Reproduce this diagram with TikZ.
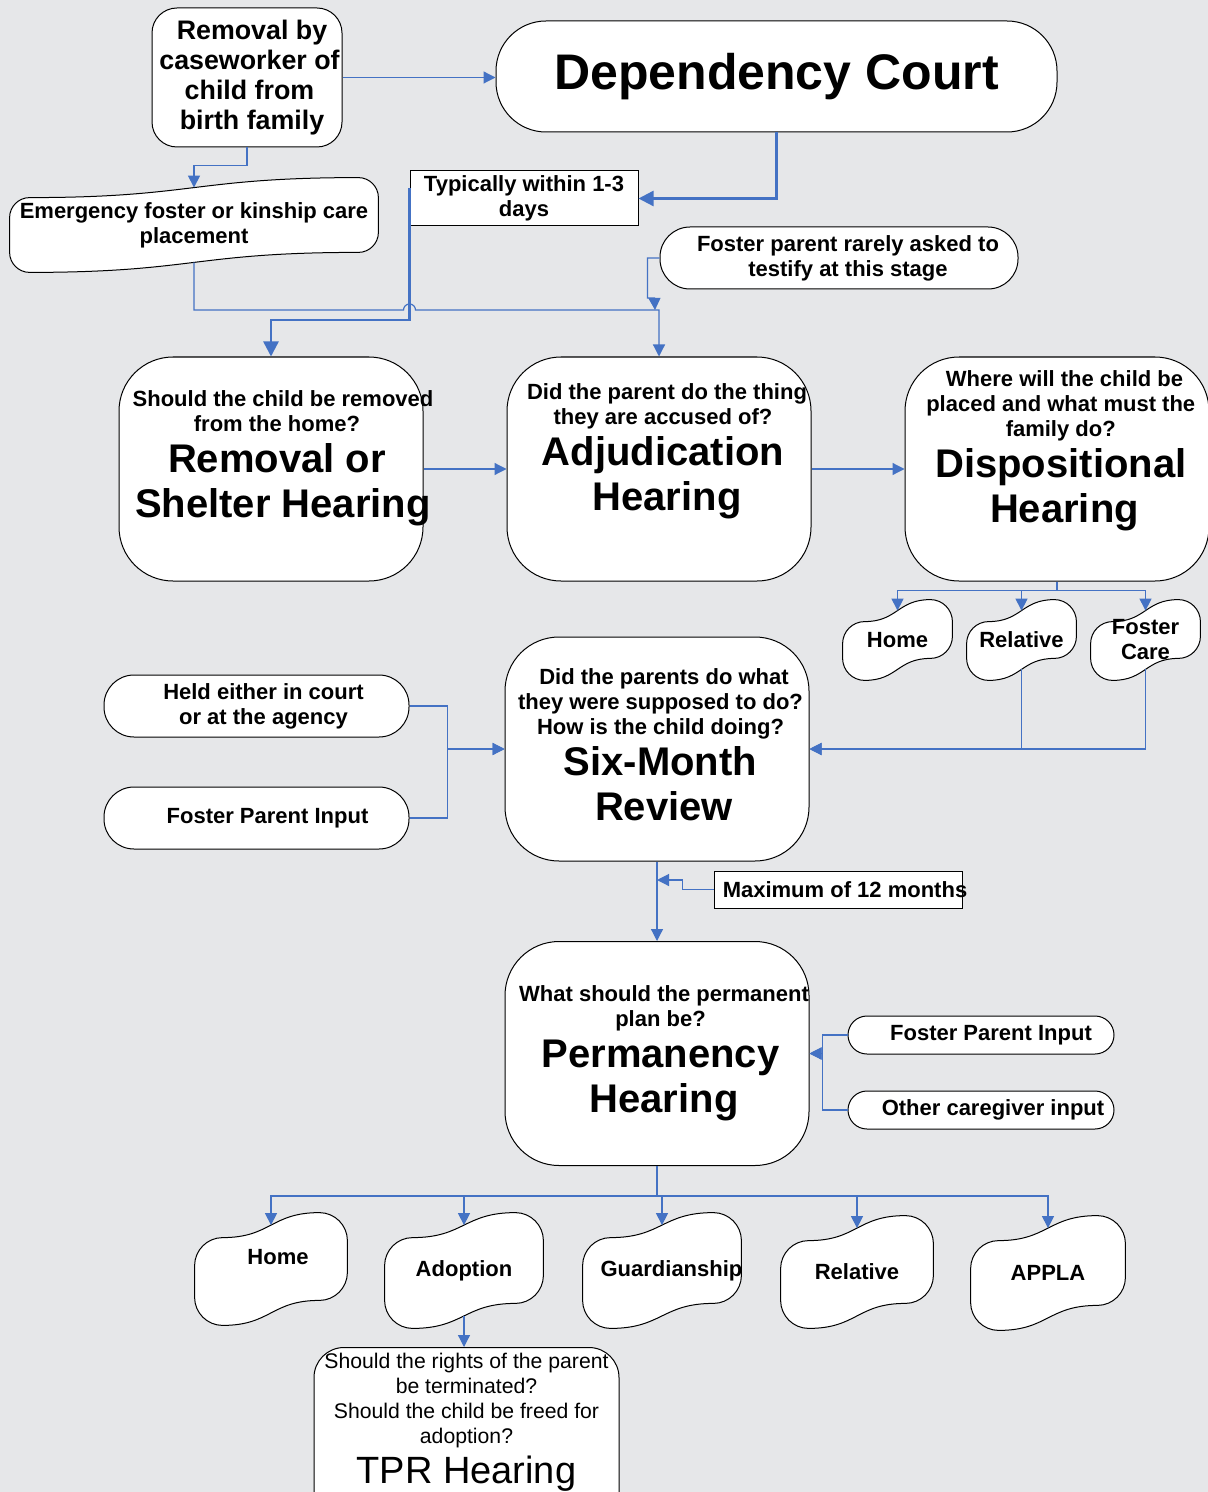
\documentclass[tikz,border=0pt]{standalone}
\usepackage{fontspec}
\setmainfont{Liberation Sans}
\usetikzlibrary{arrows.meta,backgrounds,positioning}
\definecolor{bgcol}{RGB}{230,231,233}
\definecolor{lnblue}{RGB}{68,114,196}
\newcommand{\qfont}{\bfseries\fontsize{11}{12.5}\selectfont}
\newcommand{\hfont}{\bfseries\fontsize{20}{22.5}\selectfont}
\setlength{\lineskiplimit}{-\maxdimen}
% move one line of a node to the right without widening it
\newcommand{\nudge}[2]{\hspace*{#1}#2\hspace*{-#1}}
% wavy outline round a named node: #1 name, #2 rise of the edges, #3 corner
\newcommand{\wavebox}[3]{%
  \draw[line width=0.5pt, fill=white]
    ([yshift=-#2-#3]#1.north west) .. controls ([yshift=-#2-0.45*#3]#1.north west) and ([xshift=0.45*#3,yshift=-#2]#1.north west) .. ([xshift=#3,yshift=-#2]#1.north west)
    .. controls ([yshift=-#2]#1.north) and (#1.north) .. ([xshift=-#3]#1.north east)
    .. controls ([xshift=-0.45*#3]#1.north east) and ([yshift=-0.45*#3]#1.north east) .. ([yshift=-#3]#1.north east)
    -- ([yshift=#2+#3]#1.south east) .. controls ([yshift=#2+0.45*#3]#1.south east) and ([xshift=-0.45*#3,yshift=#2]#1.south east) .. ([xshift=-#3,yshift=#2]#1.south east)
    .. controls ([yshift=#2]#1.south) and (#1.south) .. ([xshift=#3]#1.south west)
    .. controls ([xshift=0.45*#3]#1.south west) and ([yshift=0.45*#3]#1.south west) .. ([yshift=#3]#1.south west) -- cycle;
  \coordinate (#1-t) at ([yshift=-#2/2]#1.north);
  \coordinate (#1-b) at ([yshift=#2/2]#1.south);}

\begin{document}
\begin{tikzpicture}[
  x=0.5pt, y=-0.5pt,
  >={Triangle[length=6pt,width=6pt]},
  box/.style={draw=black, line width=0.5pt, fill=white, align=center, inner sep=0pt, font=\qfont},
  hearing/.style={box, minimum width=152pt, minimum height=112pt, rounded corners=27pt},
  pill/.style={box, rounded corners=15pt},
  wave/.style={align=center, inner sep=0pt, font=\qfont, minimum width=54.5pt, minimum height=40pt},
  bigwave/.style={wave, minimum width=77pt, minimum height=57pt},
  flow/.style={draw=lnblue, line width=0.6pt, ->},
  bigflow/.style={flow, line width=1.2pt, -{Triangle[length=7.5pt,width=7.5pt]}}
]
\begin{scope}[on background layer]
\fill[bgcol] (0,0) rectangle (1208,1492);
\end{scope}
\useasboundingbox (0,0) rectangle (1208,1492);

% top row
\node[box, minimum width=95pt, minimum height=69.5pt, rounded corners=12.5pt,
  font=\bfseries\fontsize{13.4}{15}\selectfont] (rm) at (247,77.5) {\nudge{2.5pt}{Removal by}\\\nudge{2.5pt}{caseworker of}\\\nudge{2.5pt}{child from}\\\nudge{2.5pt}{birth family}};
\node[box, minimum width=280.5pt, minimum height=55.5pt, rounded corners=25pt,
  font=\bfseries\fontsize{25}{30}\selectfont] (crt) at (776.5,76.5) {Dependency Court};
\node[wave, minimum width=184pt, minimum height=47pt] (emg) at (194,225) {Emergency foster or kinship care\\placement};
\node[box, minimum width=114pt, minimum height=27.5pt] (typ) at (524,198.5) {Typically within 1-3\\days};
\node[pill, minimum width=179pt, minimum height=31pt] (fpr) at (839,258) {\hspace{9pt}Foster parent rarely asked to\\\hspace{9pt}testify at this stage};
\coordinate (jn) at (659,310);

% hearings
\node[hearing] (rh) at (271,469) {\nudge{6pt}{Should the child be removed}\\\nudge{6pt}{from the home?}\\[8pt]\nudge{6pt}{\hfont Removal or}\\[10pt]\nudge{6pt}{\hfont Shelter Hearing}\rule[-14.5pt]{0pt}{0pt}};
\node[hearing] (adj) at (659,469) {\nudge{4pt}{Did the parent do the thing}\\\nudge{4pt}{they are accused of?}\\[8pt]\nudge{4pt}{\hfont Adjudication}\\[10pt]\nudge{4pt}{\hfont Hearing}\rule[-21.5pt]{0pt}{0pt}};
\node[hearing] (dsp) at (1057,469) {\nudge{3.75pt}{Where will the child be}\\\nudge{3.75pt}{placed and what must the}\\\nudge{3.75pt}{family do?}\\[8pt]\nudge{3.75pt}{\hfont Dispositional}\\[10pt]\nudge{3.75pt}{\hfont Hearing}\rule[-22.5pt]{0pt}{0pt}};

\node[wave] (h1) at (897.5,640) {Home};
\node[wave] (r1) at (1021.5,640) {Relative};
\node[wave] (fc1) at (1145.5,640) {Foster\\Care};

\node[pill, minimum width=152.5pt, minimum height=31pt] (held) at (256.5,706) {\hspace{7pt}Held either in court\\\hspace{7pt}or at the agency};
\node[pill, minimum width=152.5pt, minimum height=31pt] (fpi) at (256.5,818) {\hspace{11pt}Foster Parent Input};
\node[hearing] (six) at (657,749) {\nudge{3.5pt}{Did the parents do what}\\\nudge{3.5pt}{they were supposed to do?}\\\nudge{3.5pt}{How is the child doing?}\\[8pt]\nudge{3.5pt}{\hfont Six-Month}\\[10pt]\nudge{3.5pt}{\hfont Review}\rule[-4.5pt]{0pt}{0pt}};
\node[box, minimum width=124pt, minimum height=18.5pt] (max) at (838,889.5) {\nudge{3.5pt}{Maximum of 12 months}};

\node[hearing] (perm) at (657,1053.5) {\nudge{3.5pt}{What should the permanent}\\\nudge{3.5pt}{plan be?}\\[8pt]\nudge{3.5pt}{\hfont Permanency}\\[10pt]\nudge{3.5pt}{\hfont Hearing}};
\node[pill, minimum width=133pt, minimum height=19pt, rounded corners=9.5pt] (fpi2) at (981,1035) {\hspace{10pt}Foster Parent Input};
\node[pill, minimum width=133pt, minimum height=19pt, rounded corners=9.5pt] (ocg) at (981,1110) {\hspace{12pt}Other caregiver input};

% outcomes
\node[bigwave, minimum width=76pt, minimum height=56pt] (h2) at (271,1269) {\nudge{3.5pt}{Home}\rule[-12pt]{0pt}{0pt}};
\node[bigwave, minimum width=79pt, minimum height=57.5pt] (adop) at (464,1270.5) {Adoption};
\node[bigwave, minimum width=79pt, minimum height=57.5pt] (guard) at (662,1270.5) {\nudge{4.75pt}{Guardianship}};
\node[bigwave, minimum width=76pt, minimum height=56pt] (r2) at (857,1272) {Relative};
\node[bigwave] (appla) at (1048,1273) {APPLA};

\node[box, anchor=north, minimum width=152.5pt, rounded corners=15pt, inner ysep=3pt,
  font=\fontsize{10.6}{12.5}\selectfont] (tpr) at (466.5,1347) {Should the rights of the parent\\be terminated?\\Should the child be freed for\\adoption?\\[7.5pt]\fontsize{19}{21}\selectfont TPR Hearing\rule[-20pt]{0pt}{0pt}};

\begin{scope}[on background layer]
\wavebox{emg}{10pt}{10pt}
\foreach \n in {h1,r1,fc1} {\wavebox{\n}{11pt}{11pt}}
\foreach \n in {h2,adop,guard,r2,appla} {\wavebox{\n}{12.5pt}{14pt}}
\end{scope}

% connectors
\draw[flow] (rm.east) -- (rm.east -| crt.west);
\draw[flow] (rm.south) -- ++(0,18) -| (emg-t);
\draw[bigflow] (crt.south) |- (typ.east);
\draw[bigflow] ([yshift=5pt]typ.west) -- ++(0,131.5) -| (rh.north);
\draw[flow] (emg-b) |- ([xshift=-3pt]typ.west |- jn) arc[start angle=180, end angle=0, radius=3pt] -- (jn) -- (adj.north);
\draw[flow] (fpr.west) -- ++(-12,0) -- ++(0,40) -- ++(7,0) -- ([xshift=-2pt]jn);
\draw[flow] (rh.east) -- (adj.west);
\draw[flow] (adj.east) -- (dsp.west);
\foreach \n in {h1,r1,fc1} \draw[flow] (dsp.south) -- ++(0,9) -| (\n-t);
\foreach \n in {r1,fc1} \draw[flow] (\n-b) |- (six.east);
\foreach \n in {held,fpi} \draw[flow] (\n.east) -- ++(38,0) |- (six.west);
\draw[flow] (six.south) -- (perm.north);
\draw[flow] (max.west) -- ++(-31,0) |- ([yshift=4.75pt]max.west -| six.south);
\foreach \n in {fpi2,ocg} \draw[flow] (\n.west) -- ++(-25,0) |- (perm.east);
\foreach \n in {h2,adop,guard,r2,appla} \draw[flow] (perm.south) -- ++(0,30) -| (\n-t);
\draw[flow] (adop-b) -- (adop-b |- tpr.north);

\end{tikzpicture}
\end{document}
